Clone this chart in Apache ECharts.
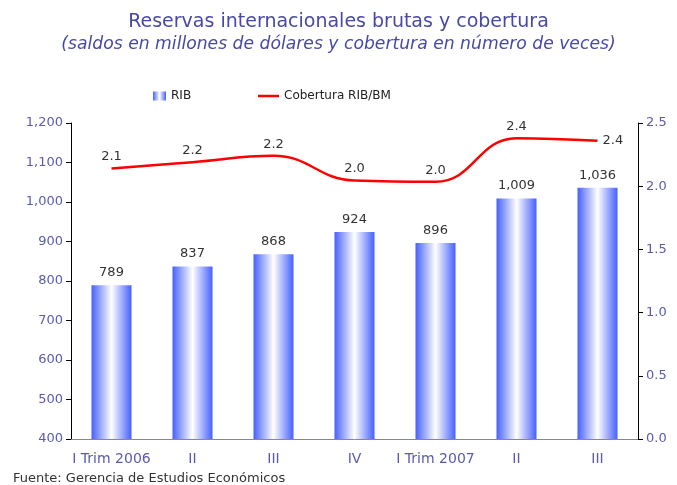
<!DOCTYPE html>
<html><head><meta charset="utf-8">
<script src="https://cdn.jsdelivr.net/npm/echarts@6/dist/echarts.min.js"></script>
<style>html,body{margin:0;padding:0;background:#fff}#c{width:677px;height:485px}</style>
</head><body><div id="c"></div>
<script>
var categories = ['I Trim 2006','II','III','IV','I Trim 2007','II','III'];
var rib = [789, 837, 868, 924, 896, 1009, 1036];
var cobertura = [2.14, 2.19, 2.24, 2.045, 2.035, 2.38, 2.36];
var leftTicks = [400, 1200, 100];
var rightTicks = [0, 2.5, 0.5];

var F = 'DejaVu Sans';
var axisBlue = '#5a5ab0';
function grad(){ return new echarts.graphic.LinearGradient(0,0,1,0,[
  {offset:0,color:'#4660ff'},{offset:0.5,color:'#ffffff'},{offset:1,color:'#4660ff'}]); }
var lineData = cobertura.map(function(v,i){
  return i === cobertura.length-1 ? {value:v,label:{position:'right',distance:5}} : v;
});
var chart = echarts.init(document.getElementById('c'));
chart.setOption({
  animation:false,
  title:[{text:'Reservas internacionales brutas y cobertura',left:'center',top:8,
    textStyle:{fontFamily:F,fontSize:19,fontWeight:'normal',color:'#4848a8'}},
    {text:'(saldos en millones de dólares y cobertura en número de veces)',left:'center',top:31,
    textStyle:{fontFamily:F,fontSize:17.2,fontWeight:'normal',fontStyle:'italic',color:'#4848a8'}},
    {text:'Fuente: Gerencia de Estudios Económicos',left:8,top:467,
    textStyle:{fontFamily:F,fontSize:13,fontWeight:'normal',color:'#333'}}],
  legend:[{top:85,left:148,itemWidth:13,itemHeight:9,itemGap:6,
    textStyle:{fontFamily:F,fontSize:12,color:'#222'},
    data:[{name:'RIB',icon:'rect'}]},
    {top:85,left:253,itemWidth:21,itemHeight:2.5,itemGap:4,
    textStyle:{fontFamily:F,fontSize:12,color:'#222'},
    data:[{name:'Cobertura RIB/BM',icon:'rect'}]}],
  grid:{left:71,right:39,top:123,bottom:46,containLabel:false},
  xAxis:{type:'category',data:categories,
    axisLine:{lineStyle:{color:'#888',width:1}},axisTick:{show:false},
    axisLabel:{fontFamily:F,fontSize:14,color:axisBlue,margin:13,interval:0}},
  yAxis:[{type:'value',min:leftTicks[0],max:leftTicks[1],interval:leftTicks[2],
    axisLine:{show:true,lineStyle:{color:'#000'}},axisTick:{show:true,length:5,lineStyle:{color:'#000'}},
    splitLine:{show:false},
    axisLabel:{fontFamily:F,fontSize:13,color:axisBlue,margin:8,
      formatter:function(v){return v.toLocaleString('en-US');}}},
    {type:'value',min:rightTicks[0],max:rightTicks[1],interval:rightTicks[2],position:'right',
    axisLine:{show:true,lineStyle:{color:'#000'}},axisTick:{show:true,length:5,lineStyle:{color:'#000'}},
    splitLine:{show:false},
    axisLabel:{fontFamily:F,fontSize:13,color:axisBlue,margin:8,
      formatter:function(v){return v.toFixed(1);}}}],
  series:[{name:'RIB',type:'bar',data:rib,barWidth:40,
    itemStyle:{color:grad()},
    label:{show:true,position:'top',distance:6,fontFamily:F,fontSize:13,color:'#333',
      formatter:function(p){return p.value.toLocaleString('en-US');}}},
    {name:'Cobertura RIB/BM',type:'line',yAxisIndex:1,data:lineData,smooth:0.45,
    symbol:'circle',symbolSize:0.1,showSymbol:true,
    lineStyle:{color:'#ff0000',width:2.5},itemStyle:{color:'#ff0000'},
    label:{show:true,position:'top',distance:5,fontFamily:F,fontSize:13,color:'#333',
      formatter:function(p){return p.value.toFixed(1);}}}]
});
</script></body></html>
